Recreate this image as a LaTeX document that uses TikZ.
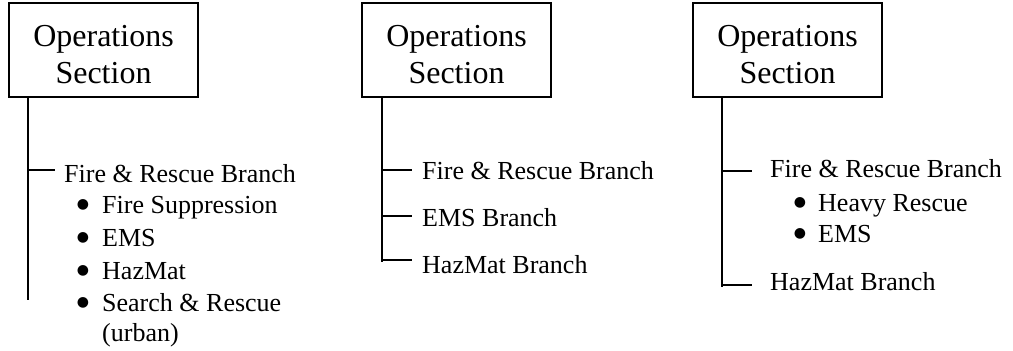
\documentclass[tikz,border=0pt]{standalone}
\usepackage{fontspec}
\setmainfont{Liberation Serif}
\newfontfamily\bulfont{DejaVu Sans}
\begin{document}
\begin{tikzpicture}[x=1pt,y=-1pt,
  opbox/.style={draw,line width=1.4pt,minimum width=189pt,minimum height=94pt,inner sep=0pt,align=center,font=\fontsize{32}{37}\selectfont},
  lbl/.style={anchor=base west,inner sep=0pt,font=\fontsize{26}{32}\selectfont},
  bul/.style={anchor=base,inner sep=0pt,yshift=4.5pt,font=\bulfont\fontsize{14}{14}\selectfont},
  conn/.style={line width=1.4pt}]
\useasboundingbox (0,0) rectangle (1013,351);
% ---------- panel 1 ----------
\node[opbox] (box1) at (103.5,50) {\rule{0pt}{30pt}Operations\\Section};
\coordinate (e1) at (28,300);
\draw[conn] (box1.south -| e1) -- (e1);
\node[lbl] (fr1) at (64,182) {Fire \& Rescue Branch};
\coordinate (k1) at (28,170);
\draw[conn] (k1) -- ([xshift=-9pt]fr1.west |- k1);
\node[bul] (b11) at (83,213) {●};
\node[lbl] (i11) at (102,213) {Fire Suppression};
\node[bul] (b12) at (83,246) {●};
\node[lbl] (i12) at (102,246) {EMS};
\node[bul] (b13) at (83,279) {●};
\node[lbl] (i13) at (102,279) {HazMat};
\node[bul] (b14) at (83,311) {●};
\node[lbl] (i14) at (102,311) {Search \& Rescue};
\node[lbl] (i15) at (102,341) {(urban)};
% ---------- panel 2 ----------
\node[opbox] (box2) at (456.5,50) {\rule{0pt}{30pt}Operations\\Section};
\coordinate (e2) at (382,262);
\draw[conn] (box2.south -| e2) -- (e2);
\node[lbl] (fr2) at (422,179) {Fire \& Rescue Branch};
\node[lbl] (em2) at (422,226) {EMS Branch};
\node[lbl] (hz2) at (422,273) {HazMat Branch};
\coordinate (k21) at (382,170);
\coordinate (k22) at (382,216);
\coordinate (k23) at (382,260);
\draw[conn] (k21) -- ([xshift=-10pt]fr2.west |- k21);
\draw[conn] (k22) -- ([xshift=-10pt]em2.west |- k22);
\draw[conn] (k23) -- ([xshift=-10pt]hz2.west |- k23);
% ---------- panel 3 ----------
\node[opbox] (box3) at (787.5,50) {\rule{0pt}{30pt}Operations\\Section};
\coordinate (e3) at (722,287);
\draw[conn] (box3.south -| e3) -- (e3);
\node[lbl] (fr3) at (770,177) {Fire \& Rescue Branch};
\node[bul] (b31) at (800,211) {●};
\node[lbl] (i31) at (818,211) {Heavy Rescue};
\node[bul] (b32) at (800,242) {●};
\node[lbl] (i32) at (818,242) {EMS};
\node[lbl] (hz3) at (770,290) {HazMat Branch};
\coordinate (k31) at (722,171);
\coordinate (k32) at (722,285);
\draw[conn] (k31) -- ([xshift=-18pt]fr3.west |- k31);
\draw[conn] (k32) -- ([xshift=-18pt]hz3.west |- k32);
\end{tikzpicture}
\end{document}
